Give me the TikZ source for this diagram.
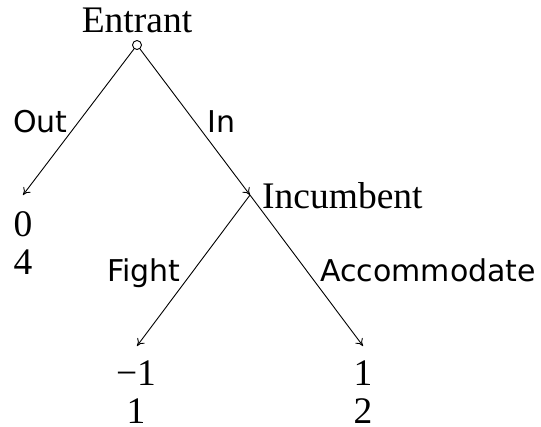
\documentclass[tikz,border=0pt]{standalone}
\usepackage{fontspec}
\setmainfont{Liberation Serif}
\newfontfamily\lblfont{DejaVu Sans}
\usetikzlibrary{arrows.meta}
\tikzset{
  edge/.style={line width=0.9pt, -{To[length=7pt,width=9pt]}},
  player/.style={inner sep=0pt, font=\fontsize{37.5}{38}\selectfont},
  payoff/.style={inner sep=0pt, align=center, anchor=north, font=\fontsize{37.5}{38}\selectfont},
  act/.style={inner sep=0pt, anchor=base west, font=\lblfont\fontsize{30}{36}\selectfont},
  root/.style={circle, draw, line width=0.9pt, fill=white, minimum size=9pt, inner sep=0pt}
}
\begin{document}
\begin{tikzpicture}[x=1pt,y=1pt]
\useasboundingbox (0,0) rectangle (541,-426);
% nodes
\node[root] (r) at (137,-45) {};
\node[player, anchor=base] (entrant) at (137,-32) {Entrant};
\coordinate (inc) at (250,-195);
\node[player, anchor=base west] (incumbent) at (262,-208) {Incumbent};
\coordinate (tout) at (23,-195);
\coordinate (tfight) at (137,-346);
\coordinate (tacc) at (363,-346);
% payoffs
\node[payoff] (pout) at (23,-211) {0\\4};
\node[payoff] (pfight) at (136,-361) {−1\\1};
\node[payoff] (pacc) at (363,-361) {1\\2};
% edges
\draw[edge] (r) -- (tout);
\draw[edge] (r) -- (inc);
\draw[edge] (inc) -- (tfight);
\draw[edge] (inc) -- (tacc);
% labels
\node[act] (lout) at (13,-132) {Out};
\node[act] (lin) at (207,-132) {In};
\node[act] (lfight) at (107,-281) {Fight};
\node[act] (lacc) at (320,-281) {Accommodate};
\end{tikzpicture}
\end{document}
